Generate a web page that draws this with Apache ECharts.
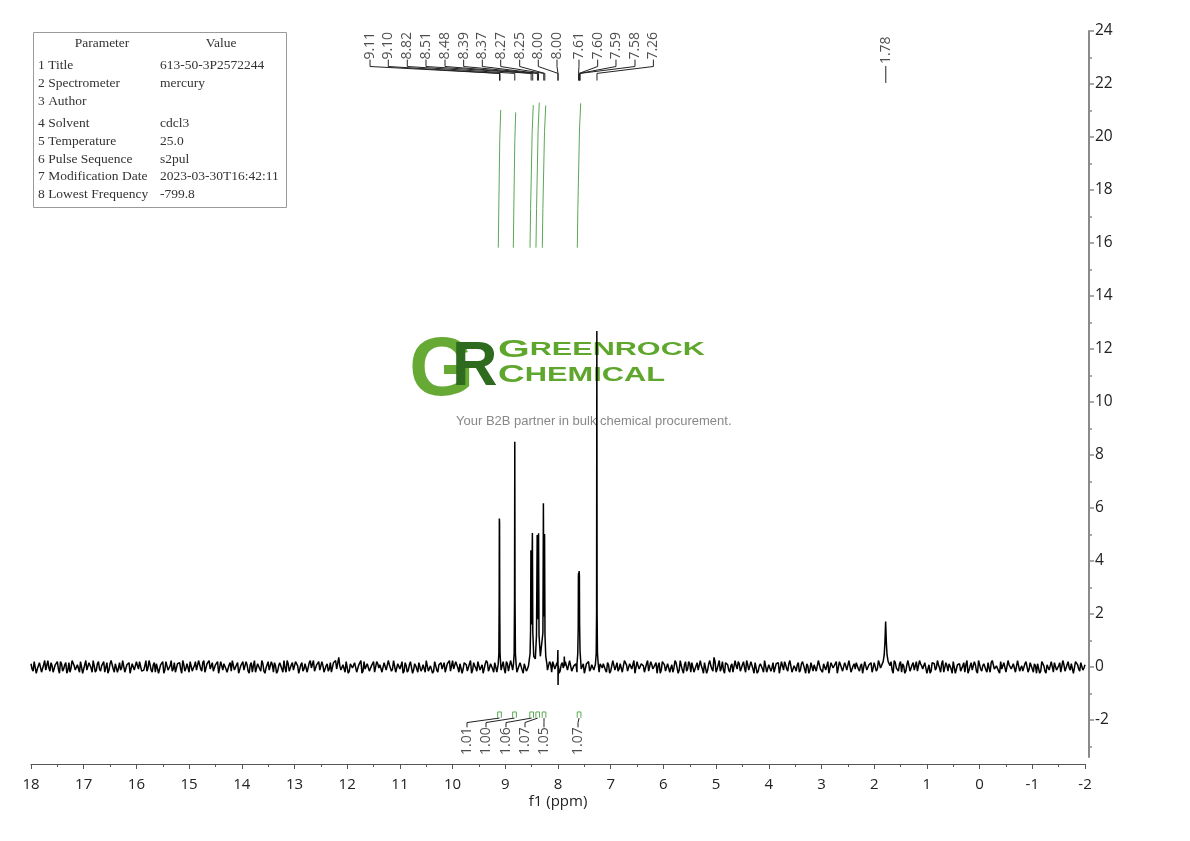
<!DOCTYPE html>
<html><head><meta charset="utf-8">
<script src="https://cdn.jsdelivr.net/npm/echarts@6/dist/echarts.min.js"></script>
<style>html,body{margin:0;padding:0;background:#fff}#c{width:1190px;height:841px}</style>
</head><body><div id="c"></div>
<script>
// ---------- axis ticks ----------
const yTickValues = [-2,0,2,4,6,8,10,12,14,16,18,20,22,24];
const yMinorValues = [-3,-1,1,3,5,7,9,11,13,15,17,19,21,23];

// ---------- baseline noise (read as band, units of 0.04) ----------
const noiseStartPpm = 18;
const noiseStepPpm = 0.04;
const noiseUnit = 0.04;
// samples at 18, 17.96, 17.92 ...
const baselineNoise = [
3,-4,5,-2,4,-5,2,-3,6,-4,1,-5,3,-2,5,-4,2,-6,4,-1,
5,-3,2,-5,4,-2,6,-4,3,-5,1,-3,5,-4,2,-5,4,-3,6,-2,
3,-5,4,-1,5,-4,2,-6,3,-3,5,-2,4,-5,1,-4,6,-3,2,-5,
4,-2,3,-6,5,-3,1,-4,4,-5,2,-2,6,-4,3,-5,4,-1,5,-3,
2,-4,6,-5,3,-2,4,-4,1,-6,5,-3,3,-5,2,-4,5,-2,4,-6,
3,-3,5,-4,2,-5,6,-1,4,-4,3,-6,2,-3,5,-5,1,-4,4,-2,
6,-5,3,-3,4,-2,5,-6,2,-4,3,-5,4,-1,6,-4,2,-3,5,-5,
1,-4,4,-6,3,-2,9,-3,2,-5,6,-4,3,-2,4,-5,1,-6,5,-3,
4,-4,2,-5,5,-1,3,-6,4,-3,2,-4,6,-5,3,-2,5,-4,1,-3,
5,-6,3,-2,4,-4,2,-5,6,-3,1,-4,5,-5,3,-2,4,-6,2,-4,
6,-3,4,-5,2,-2,5,-4,3,-6,4,-1,5,-3,2,-5,6,-4,3,-2,
4,-5,1,-3,5,-6,3,-4,2,-2,6,-5,4,-3,3,-4,1,-5,5,-2,
3,-6,4,-4,2,-3,5,-5,6,-2,3,-4,4,-6,1,-3,5,-4,2,-5,
6,-2,3,-5,4,-4,2,-3,5,-6,3,-1,4,-5,2,-4,6,-3,4,-2,
2,-5,5,-4,3,-2,6,-6,1,-3,4,-5,3,-4,5,-2,2,-6,4,-3,
5,-4,3,-5,2,-1,4,-6,6,-3,2,-4,5,-5,3,-2,4,-4,1,-6,
4,-3,6,-2,9,-5,2,-4,5,-6,4,-3,1,-5,6,-2,3,-4,5,-5,
2,-3,4,-6,5,-4,3,-2,6,-5,2,-4,4,-1,3,-6,5,-3,2,-4,
6,-5,1,-4,4,-3,5,-2,3,-6,4,-4,2,-5,6,-1,3,-3,5,-5,
3,-2,5,-6,2,-4,4,-3,6,-5,1,-2,4,-4,3,-6,5,-3,2,-5,
4,-4,6,-1,3,-5,2,-3,5,-6,4,-2,3,-5,1,-4,6,-4,2,-3,
5,-5,3,-2,4,-6,2,-4,5,-3,6,-1,3,-5,4,-4,2,-6,5,-2,
3,-4,1,-5,6,-3,4,-2,2,-6,5,-4,3,-3,4,-5,6,-2,1,-4,
5,-3,4,-6,2,-2,3,-5,6,-4,1,-3,5,-5,4,-2,3,-6,2,-4,
6,-4,2,-3,5,-5,3,-1,4,-6,2,-4,5,-3,3,-5,6,-2,4,-3,
2
];
// samples at 17.98, 17.94, 17.90 ...
const midStartPpm = 17.98;
const baselineNoiseMid = [
-2,5,-6,1,3,-4,6,-3,-1,4,-5,2,5,-6,3,-2,4,-3,-5,6,
1,-4,3,5,-6,2,-3,4,-1,6,-5,3,-2,1,5,-4,-6,3,2,-5,
4,-1,-3,6,-5,2,4,-6,3,-2,1,5,-4,-3,6,-1,2,-5,4,3,
-6,2,5,-3,1,-4,6,-2,-5,3,4,-6,2,-1,3,5,-4,1,-3,6,
-2,4,-5,3,6,-1,-4,2,5,-6,1,3,-2,-5,4,6,-3,2,-6,1,
5,-3,2,-6,4,1,-5,3,-2,6,-4,-1,5,-3,2,4,-6,1,3,-5,
-1,6,-4,2,-3,5,1,-6,4,-2,3,-5,6,-1,-4,2,5,-3,1,-6,
3,-2,-5,4,6,-3,1,-4,2,5,-6,3,-1,4,-5,2,6,-4,-2,3,
-4,1,5,-6,3,2,-5,4,-3,6,-1,-2,5,-4,3,1,-6,4,-5,2,
6,-3,1,-5,4,-2,3,6,-4,1,-6,5,-3,2,4,-1,-5,3,6,-4,
-2,5,-1,3,-6,4,2,-5,6,-3,1,-4,5,-2,-6,3,4,-1,2,-5,
3,-6,4,1,-2,5,-4,6,-3,2,-5,1,3,-6,4,-2,5,-1,-4,6,
-3,2,6,-5,1,-4,3,5,-2,4,-6,2,-1,5,-3,6,-4,1,3,-5,
4,-1,-6,3,5,-2,1,-4,6,-5,2,3,-3,4,-6,1,5,-2,-4,3,
-5,6,2,-3,4,-1,-6,5,-2,3,1,-4,6,-5,2,-3,4,1,-6,5,
2,-4,3,-1,-5,6,4,-3,1,-6,5,-2,3,4,-5,1,-3,6,-2,4,
-6,3,1,-4,5,-2,6,-1,-3,4,2,-5,3,-6,1,5,-4,2,-1,6,
-3,5,-2,4,-6,1,3,-5,6,-4,2,-1,-5,3,4,-6,1,5,-2,3,
6,-4,-1,2,-5,3,5,-6,1,-3,4,2,-4,6,-2,-5,3,1,-6,4,
-1,3,-6,5,2,-4,1,-3,6,-5,3,4,-2,1,-6,5,-3,2,4,-1,
5,-2,3,-6,1,4,-5,2,-3,6,-1,-4,5,3,-6,2,1,-5,4,-3,
-4,6,1,-3,5,-2,-6,4,3,-1,2,-5,6,-4,1,3,-2,5,-6,2,
3,-5,4,2,-6,1,-3,5,-4,6,-2,1,3,-5,-1,4,6,-3,2,-6,
-2,4,-5,6,1,-3,2,-6,5,-1,-4,3,6,-2,4,-5,1,3,-6,5,
1,-6,3,-2,5,4,-3,1,-5,6,-4,2,-1,3,-6,5,2,-4,3,-1
];

// ---------- peak profiles [ppm, intensity] ----------
const peak911 = [[9.135,0.1],[9.122,0.5],[9.116,2.5],[9.113,5.6],[9.109,5.45],[9.106,2.5],[9.1,0.5],[9.087,0.1]];
const peak882 = [[8.845,0.1],[8.832,0.5],[8.825,2.5],[8.82,8.5],[8.815,2.5],[8.808,0.5],[8.795,0.1]];
const peak851to825 = [[8.55,0.1],[8.53,0.5],[8.52,1.4],[8.514,4.4],[8.505,1.6],[8.494,1.6],[8.486,5.05],[8.478,1.3],[8.46,0.4],[8.43,0.3],[8.408,1.2],[8.395,4.98],[8.385,1.8],[8.377,1.8],[8.369,5.04],[8.36,1.2],[8.335,0.4],[8.305,0.4],[8.286,1.3],[8.277,6.18],[8.268,1.9],[8.262,1.9],[8.255,5.02],[8.247,1.2],[8.232,0.4],[8.21,0.1]];
const peak800 = [[8.01,0.05],[8.002,0.64],[7.999,-0.68],[7.993,0.05]];
const peak788 = [[7.886,0.05],[7.88,0.39],[7.874,0.05]];
const peak761 = [[7.64,0.1],[7.625,0.5],[7.616,1.5],[7.613,3.4],[7.609,3.55],[7.604,3.2],[7.599,3.62],[7.594,3.45],[7.59,1.6],[7.582,0.6],[7.565,0.1]];
const peak726 = [[7.29,0.1],[7.275,0.5],[7.268,2.0],[7.263,12.68],[7.258,2.0],[7.251,0.5],[7.236,0.1]];
const peak178 = [[1.86,0.05],[1.83,0.2],[1.81,0.45],[1.797,0.9],[1.789,1.35],[1.783,1.71],[1.777,1.35],[1.769,0.9],[1.756,0.45],[1.735,0.2],[1.70,0.05]];
const peakTraces = [peak911, peak882, peak851to825, peak800, peak788, peak761, peak726, peak178];

// ---------- integral curves ----------
const integral1 = [[9.133,15.82],[9.124,17.2],[9.105,19.9],[9.087,21.02]];
const integral2 = [[8.848,15.82],[8.839,17.2],[8.82,19.8],[8.803,20.93]];
const integral3 = [[8.531,15.82],[8.52,17.3],[8.49,20.2],[8.469,21.2]];
const integral4 = [[8.418,15.82],[8.407,17.3],[8.377,20.3],[8.355,21.3]];
const integral5 = [[8.298,15.82],[8.287,17.3],[8.256,20.2],[8.233,21.19]];
const integral6 = [[7.634,15.82],[7.623,17.3],[7.592,20.3],[7.569,21.27]];
const integralCurves = [integral1, integral2, integral3, integral4, integral5, integral6];
const integralCenters = [9.11, 8.825, 8.50, 8.385, 8.265, 7.60];
const integralValues = ['1.01','1.00','1.06','1.07','1.05','1.07'];
const integralLabelPpm = [9.727, 9.366, 8.987, 8.626, 8.266, 7.62];

// ---------- peak labels ----------
const peakLabelText = ['9.11','9.10','8.82','8.51','8.48','8.39','8.37','8.27','8.25','8.00','8.00','7.61','7.60','7.59','7.58','7.26'];
const peakLabelPpm = [11.567, 11.22, 10.86, 10.505, 10.144, 9.79, 9.436, 9.087, 8.727, 8.374, 8.019, 7.602, 7.247, 6.90, 6.539, 6.19];
const peakTargetPpm = [9.11, 9.10, 8.82, 8.51, 8.48, 8.39, 8.37, 8.27, 8.25, 8.00, 8.00, 7.61, 7.60, 7.59, 7.58, 7.26];
const singleLabelText = ['1.78'];
const singleLabelPpm = [1.78];

// ---------- parameter table ----------
const paramNames = ['1 Title','2 Spectrometer','3 Author','4 Solvent','5 Temperature','6 Pulse Sequence','7 Modification Date','8 Lowest Frequency'];
const paramValues = ['613-50-3P2572244','mercury','','cdcl3','25.0','s2pul','2023-03-30T16:42:11','-799.8'];

// ---------- build spectrum ----------
const windows = peakTraces.map(t => [Math.min(...t.map(p => p[0])), Math.max(...t.map(p => p[0]))]);
const spectrum = [];
const addNoise = (arr, start) => arr.forEach((v, i) => {
  const x = start - i * noiseStepPpm;
  if (!windows.some(w => x >= w[0] && x <= w[1])) spectrum.push([x, v * noiseUnit]);
});
addNoise(baselineNoise, noiseStartPpm);
addNoise(baselineNoiseMid, midStartPpm);
peakTraces.forEach(t => t.forEach(p => spectrum.push(p)));
spectrum.sort((a, b) => b[0] - a[0]);

const topConnectors = peakLabelPpm.map((lp, i) => ({coords: [[lp, 22.92], [lp, 22.66], [peakTargetPpm[i], 22.40], [peakTargetPpm[i], 22.13]]}));
singleLabelPpm.forEach(p => topConnectors.push({coords: [[p, 22.68], [p, 22.04]]}));
const bottomConnectors = integralLabelPpm.map((lp, i) => ({coords: [[lp, -2.28], [lp, -2.1], [integralCenters[i], -1.93]]}));
const integralMarkers = integralCenters.map(c => ({coords: [[c + 0.035, -1.92], [c + 0.035, -1.70], [c - 0.035, -1.70], [c - 0.035, -1.92]]}));

const FONT = 'Open Sans';
const TFONT = '13.5px "Liberation Serif"';
const chart = echarts.init(document.getElementById('c'), null, {renderer: 'canvas'});

const tableEls = [{type: 'rect', shape: {x: 33.5, y: 32.5, width: 253, height: 175}, style: {fill: '#fff', stroke: '#9a9a9a', lineWidth: 1}},
  {type: 'text', x: 102, y: 43, style: {text: 'Parameter', fill: '#333', font: TFONT, align: 'center', verticalAlign: 'middle'}},
  {type: 'text', x: 221, y: 43, style: {text: 'Value', fill: '#333', font: TFONT, align: 'center', verticalAlign: 'middle'}}];
const rowY = [65, 83, 101, 123, 141, 159, 176, 194];
paramNames.forEach((n, i) => {
  tableEls.push({type: 'text', x: 38, y: rowY[i], style: {text: n, fill: '#333', font: TFONT, verticalAlign: 'middle'}});
  tableEls.push({type: 'text', x: 160, y: rowY[i], style: {text: paramValues[i], fill: '#333', font: TFONT, verticalAlign: 'middle'}});
});

chart.setOption({
  animation: false,
  backgroundColor: '#fff',
  grid: {left: 31, right: 105, top: 31, bottom: 84, containLabel: false},
  xAxis: {
    type: 'value', inverse: true, min: -2, max: 18, interval: 1, position: 'bottom', offset: 7,
    axisLine: {show: true, onZero: false, lineStyle: {color: '#555', width: 1}},
    axisTick: {show: true, inside: false, length: 5, lineStyle: {color: '#555'}},
    minorTick: {show: true, splitNumber: 2, length: 3, lineStyle: {color: '#555'}},
    axisLabel: {fontSize: 15, color: '#222', margin: 13, fontFamily: FONT},
    splitLine: {show: false}, minorSplitLine: {show: false},
    name: 'f1 (ppm)', nameLocation: 'middle', nameGap: 30, nameMoveOverlap: false,
    nameTextStyle: {fontSize: 15, color: '#222', fontFamily: FONT}
  },
  yAxis: [{
    type: 'value', position: 'right', offset: 4, min: -3.4, max: 24,
    axisLine: {show: true, onZero: false, lineStyle: {color: '#8a8a8a', width: 2}},
    axisTick: {show: true, length: 5, lineStyle: {color: '#8a8a8a', width: 1.5}, customValues: yTickValues},
    axisLabel: {show: true, margin: 6, fontSize: 15.5, color: '#222', fontFamily: FONT, customValues: yTickValues},
    splitLine: {show: false}
  }, {
    type: 'value', position: 'right', offset: 4, min: -3.4, max: 24,
    axisLine: {show: false, onZero: false},
    axisTick: {show: true, length: 3, lineStyle: {color: '#8a8a8a', width: 1.5}, customValues: yMinorValues},
    axisLabel: {show: false, customValues: yMinorValues},
    splitLine: {show: false}
  }],
  graphic: [
    {type: 'group', z: 1, silent: true, children: [
      {type: 'text', x: 409, y: 330, style: {text: 'G', fill: '#67a935', font: 'bold 84px "Liberation Sans"'}},
      {type: 'text', x: 452, y: 336, style: {text: 'R', fill: '#2f6b1f', font: 'bold 63px "Liberation Sans"'}},
      {type: 'text', x: 498, y: 362, scaleX: 1.7, style: {text: '{a|G}{b|REENROCK}', fontFamily: 'Liberation Sans', rich: {a: {fontSize: 24, fill: '#5ea62c', fontFamily: 'Liberation Sans', fontWeight: 'bold'}, b: {fontSize: 18, fill: '#5ea62c', fontFamily: 'Liberation Sans', fontWeight: 'bold'}}, verticalAlign: 'bottom'}},
      {type: 'text', x: 498, y: 387, scaleX: 1.54, style: {text: '{a|C}{b|HEMICAL}', fontFamily: 'Liberation Sans', rich: {a: {fontSize: 24, fill: '#5ea62c', fontFamily: 'Liberation Sans', fontWeight: 'bold'}, b: {fontSize: 20, fill: '#5ea62c', fontFamily: 'Liberation Sans', fontWeight: 'bold'}}, verticalAlign: 'bottom'}},
      {type: 'text', x: 456, y: 421, style: {text: 'Your B2B partner in bulk chemical procurement.', fill: '#888', font: '13px "Liberation Sans"', verticalAlign: 'middle'}}
    ]},
    {type: 'group', z: 100, children: tableEls}
  ],
  series: [
    {type: 'line', data: spectrum, showSymbol: false, symbol: 'none', sampling: null, z: 5,
     lineStyle: {color: '#000', width: 1.5}, silent: true},
    {type: 'lines', coordinateSystem: 'cartesian2d', polyline: true, z: 4, silent: true,
     data: integralCurves.map(c => ({coords: c})), lineStyle: {color: '#5aa854', width: 1, opacity: 1}},
    {type: 'lines', coordinateSystem: 'cartesian2d', polyline: true, z: 4, silent: true,
     data: integralMarkers, lineStyle: {color: '#5aa854', width: 1, opacity: 1}},
    {type: 'lines', coordinateSystem: 'cartesian2d', polyline: true, z: 4, silent: true,
     data: topConnectors.concat(bottomConnectors), lineStyle: {color: '#222', width: 1, opacity: 1}},
    {type: 'scatter', symbolSize: 1, silent: true, z: 6, itemStyle: {color: 'rgba(0,0,0,0)'},
     data: peakLabelPpm.map(x => [x, 22.92]).concat(singleLabelPpm.map(x => [x, 22.75])),
     label: {show: true, position: 'inside', rotate: 90, align: 'left', verticalAlign: 'middle', fontSize: 14, color: '#222', fontFamily: FONT,
       formatter: p => p.dataIndex < peakLabelText.length ? peakLabelText[p.dataIndex] : singleLabelText[p.dataIndex - peakLabelText.length]}},
    {type: 'scatter', symbolSize: 1, silent: true, z: 6, itemStyle: {color: 'rgba(0,0,0,0)'},
     data: integralLabelPpm.map(x => [x, -2.28]),
     label: {show: true, position: 'inside', rotate: 90, align: 'right', verticalAlign: 'middle', fontSize: 14, color: '#222', fontFamily: FONT,
       formatter: p => integralValues[p.dataIndex]}}
  ]
});
</script></body></html>
